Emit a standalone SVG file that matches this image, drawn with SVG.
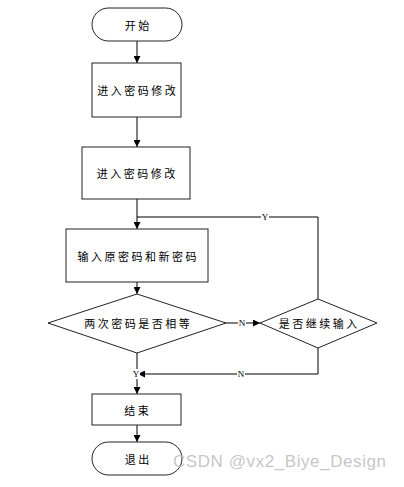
<svg xmlns="http://www.w3.org/2000/svg" width="404" height="487" viewBox="0 0 404 487">
<style>
.shape{fill:#fff;stroke:#222;stroke-width:1}
.t{font-family:"Noto Sans CJK SC","Noto Sans",sans-serif;font-size:11px;letter-spacing:2.5px;fill:#000;text-anchor:middle;dominant-baseline:central}
.ln{fill:none;stroke:#000;stroke-width:1}
.lb{font-family:"Liberation Serif",serif;font-size:9px;fill:#000;text-anchor:middle;dominant-baseline:central}
.wm{font-family:"Liberation Sans",Arial,sans-serif;font-size:17px;fill:#bbb;fill-opacity:0.85}
</style>
<defs>
<marker id="ah" viewBox="0 0 10 10" refX="10" refY="5" markerWidth="7" markerHeight="7" orient="auto" markerUnits="userSpaceOnUse">
<path d="M0,0 L10,5 L0,10 z" fill="#000"/>
</marker>
</defs>
<g id="connectors">
<path class="ln" d="M137,41 V63" marker-end="url(#ah)"/>
<path class="ln" d="M137,117 V147" marker-end="url(#ah)"/>
<path class="ln" d="M137,199 V229" marker-end="url(#ah)"/>
<path class="ln" d="M137,282 V294" marker-end="url(#ah)"/>
<path class="ln" d="M226,323 H260" marker-end="url(#ah)"/>
<path class="ln" d="M318,299 V217 H137"/>
<path class="ln" d="M318,348 V374 H138" marker-end="url(#ah)"/>
<path class="ln" d="M137,353 V394" marker-end="url(#ah)"/>
<path class="ln" d="M137,425 V442" marker-end="url(#ah)"/>
<rect x="238" y="318" width="8" height="10" fill="#fff"/>
<text class="lb" x="242" y="323">N</text>
<rect x="261" y="212" width="8" height="10" fill="#fff"/>
<text class="lb" x="265" y="217">Y</text>
<rect x="237" y="369" width="8" height="10" fill="#fff"/>
<text class="lb" x="241" y="374">N</text>
<rect x="133" y="369" width="7" height="10" fill="#fff"/>
<text class="lb" x="136" y="374">Y</text>
</g>
<g id="start"><rect class="shape" x="92" y="8" width="90" height="33" rx="16.5"/><text class="t" x="138.25" y="24.5">开始</text></g>
<g id="enter1"><rect class="shape" x="92" y="63" width="89" height="54"/><text class="t" x="137.75" y="90">进入密码修改</text></g>
<g id="enter2"><rect class="shape" x="82" y="147" width="108" height="52"/><text class="t" x="137.25" y="173">进入密码修改</text></g>
<g id="input"><rect class="shape" x="66" y="229" width="142" height="53"/><text class="t" x="138.25" y="256">输入原密码和新密码</text></g>
<g id="equal"><polygon class="shape" points="48,323 137,294 226,323 137,353"/><text class="t" x="138.25" y="323">两次密码是否相等</text></g>
<g id="again"><polygon class="shape" points="260,323 318,299 377,323 318,348"/><text class="t" x="319.25" y="323">是否继续输入</text></g>
<g id="end"><rect class="shape" x="92" y="394" width="89" height="31"/><text class="t" x="137.75" y="410">结束</text></g>
<g id="exit"><rect class="shape" x="92" y="442" width="90" height="33" rx="16.5"/><text class="t" x="138.25" y="459">退出</text></g>
<text class="wm" x="173" y="467" textLength="213">CSDN @vx2_Biye_Design</text>
</svg>
